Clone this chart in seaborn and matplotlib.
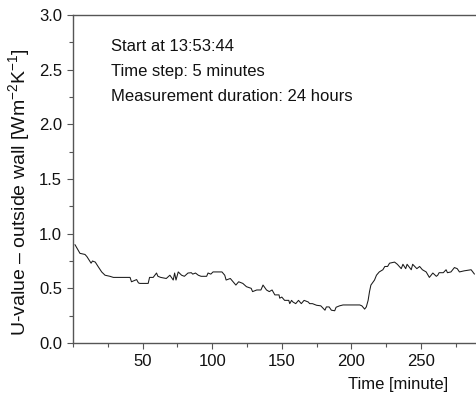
import matplotlib
matplotlib.use("Agg")
import matplotlib.pyplot as plt
from matplotlib.ticker import MultipleLocator, FormatStrFormatter
import seaborn as sns
import pandas as pd

sns.set_theme(style="ticks")
plt.rcParams['font.family'] = ['Liberation Sans', 'DejaVu Sans']
plt.rcParams['mathtext.fontset'] = 'custom'
plt.rcParams['mathtext.rm'] = 'Liberation Sans'

time_min = [1.4, 5, 8.6, 10, 13, 14, 16, 18, 20.6, 23, 26.5, 29, 41, 42, 45.7, 47, 48, 54,
            55, 57.6, 60, 61, 63, 67, 69.6, 72, 73, 74, 75.6, 78, 80, 82.6, 85, 86, 88, 90,
            92, 96, 97, 99, 100.6, 107, 109, 110, 113, 115, 117, 119, 122, 124.6, 128, 129,
            132, 135, 136.5, 139, 141, 143, 145, 148, 148.5, 150, 152, 155, 155.7, 157, 158,
            160, 162, 164, 166, 169, 170, 172, 175, 178, 181, 182, 184, 185.6, 188, 189,
            191.5, 194, 206, 207.5, 209.5, 210.7, 212, 213, 214, 216.6, 218, 220, 222.6, 224,
            226, 227.4, 231, 233, 235.8, 237, 239, 240, 243, 244, 247, 249, 251, 253.7, 256,
            258.5, 261, 262, 263, 266, 268, 269, 271.5, 274, 276, 277.6, 281, 286, 288.4]
u_value = [0.90, 0.82, 0.81, 0.79, 0.73, 0.75, 0.74, 0.70, 0.65, 0.62, 0.61, 0.60, 0.60, 0.56,
           0.58, 0.55, 0.545, 0.545, 0.60, 0.60, 0.64, 0.61, 0.60, 0.59, 0.62, 0.576, 0.64,
           0.576, 0.65, 0.62, 0.61, 0.64, 0.643, 0.63, 0.64, 0.62, 0.61, 0.61, 0.64, 0.63,
           0.65, 0.65, 0.62, 0.576, 0.59, 0.56, 0.53, 0.56, 0.545, 0.515, 0.50, 0.47, 0.485,
           0.485, 0.53, 0.485, 0.47, 0.485, 0.44, 0.44, 0.41, 0.42, 0.39, 0.39, 0.36, 0.39,
           0.375, 0.36, 0.39, 0.36, 0.39, 0.375, 0.36, 0.36, 0.345, 0.34, 0.30, 0.33, 0.33,
           0.30, 0.295, 0.327, 0.34, 0.348, 0.348, 0.34, 0.31, 0.33, 0.39, 0.47, 0.53, 0.576,
           0.62, 0.65, 0.67, 0.70, 0.70, 0.73, 0.74, 0.72, 0.68, 0.72, 0.68, 0.72, 0.67, 0.72,
           0.68, 0.70, 0.67, 0.65, 0.60, 0.64, 0.61, 0.62, 0.643, 0.643, 0.67, 0.643, 0.65,
           0.69, 0.68, 0.65, 0.66, 0.67, 0.63]
x_ticks = [50, 100, 150, 200, 250]
notes = ["Start at 13:53:44", "Time step: 5 minutes", "Measurement duration: 24 hours"]

df = pd.DataFrame({"t": time_min, "u": u_value})

FS = 12
fig = plt.figure(figsize=(4.76, 3.94), dpi=100)
ax = fig.add_axes([73/476, 1-343/394, 1-73/476, (343-15)/394])
sns.lineplot(data=df, x="t", y="u", ax=ax, color="#1a1a1a", linewidth=0.75)

ax.set_xlim(0, 289.5)
ax.set_ylim(0, 3.0)
ax.set_xticks(x_ticks)
ax.xaxis.set_minor_locator(MultipleLocator(25))
ax.yaxis.set_major_locator(MultipleLocator(0.5))
ax.yaxis.set_minor_locator(MultipleLocator(0.25))
ax.yaxis.set_major_formatter(FormatStrFormatter('%.1f'))

for side in ["left", "bottom", "top"]:
    ax.spines[side].set_color("#555555")
    ax.spines[side].set_linewidth(1.0)
ax.spines["right"].set_visible(False)
ax.tick_params(which="major", direction="out", length=4, width=0.8, color="#555555",
               labelsize=FS, labelcolor="#111111", pad=4)
ax.tick_params(which="minor", direction="out", length=3, width=0.8, color="#555555")

ax.set_xlabel("Time [minute]", fontsize=FS, color="#111111")
ax.xaxis.set_label_coords((448-73)/403, -(389-343)/328)
ax.xaxis.label.set_horizontalalignment("right")
ax.xaxis.label.set_verticalalignment("baseline")
ax.set_ylabel(r"U-value – outside wall [Wm$^{-2}$K$^{-1}$]", fontsize=14, color="#111111")
ax.yaxis.set_label_coords(-(73-20)/403, 0.46)
ax.yaxis.label.set_verticalalignment("center")

for i, s in enumerate(notes):
    ax.text((111-73)/403, (343-51-i*25)/328, s, transform=ax.transAxes,
            fontsize=FS, color="#111111", va="baseline", ha="left")

fig.savefig("out.png", dpi=100)
